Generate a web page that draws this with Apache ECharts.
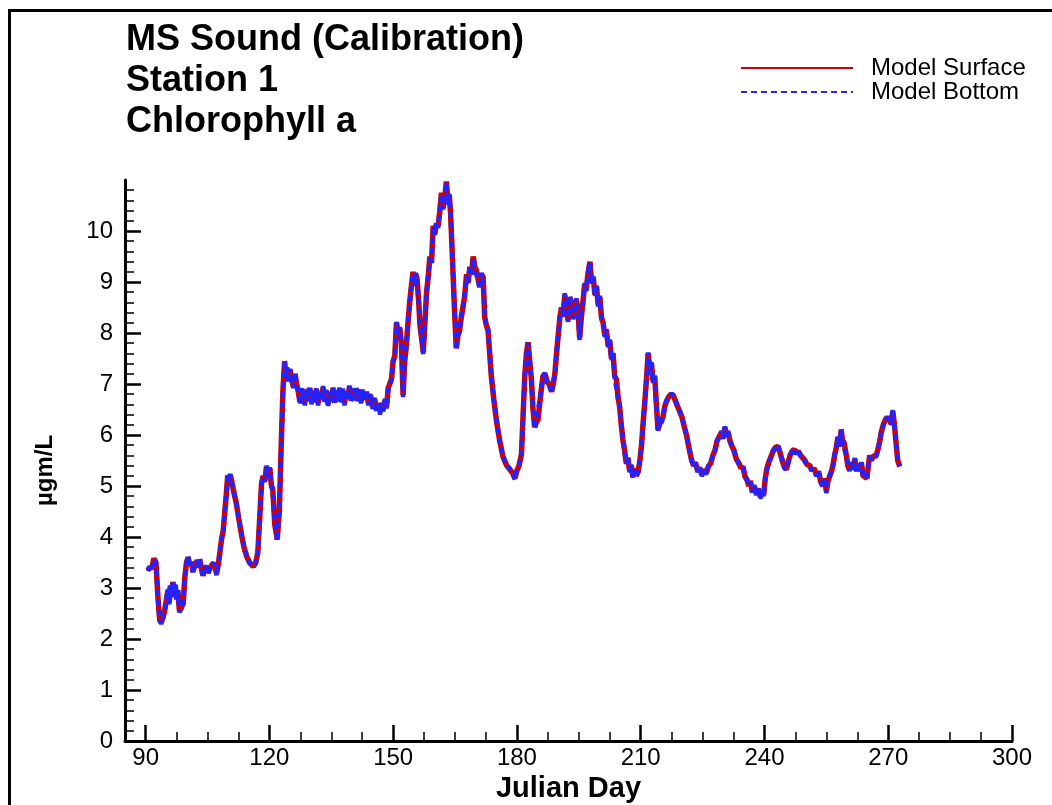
<!DOCTYPE html>
<html>
<head>
<meta charset="utf-8">
<script src="https://cdn.jsdelivr.net/npm/echarts@6/dist/echarts.min.js"></script>
<style>
  html, body { margin: 0; padding: 0; background: #fff; }
  #chart { width: 1052px; height: 805px; }
</style>
</head>
<body>
<div id="chart"></div>
<script>
// Julian day of each sample
const days = [
  90.5, 91.0, 91.5, 92.0, 92.5, 93.0, 93.4, 93.8, 94.2, 94.6, 95.0, 95.4, 95.7, 96.0, 96.3, 96.6, 96.9, 97.2, 97.5, 97.8,
  98.2, 98.6, 99.1, 99.5, 99.9, 100.3, 100.7, 101.1, 101.5, 101.9, 102.4, 102.8, 103.1, 103.5, 103.9, 104.3, 104.7, 105.1, 105.6, 106.0,
  106.5, 106.9, 107.2, 107.6, 108.0, 108.4, 108.8, 109.2, 109.6, 109.9, 110.2, 110.5, 110.8, 111.2, 111.6, 112.0, 112.6, 113.3, 113.9, 114.5,
  115.2, 116.1, 116.7, 117.2, 117.7, 118.1, 118.5, 118.9, 119.3, 119.7, 120.1, 120.5, 120.8, 121.3, 121.9, 122.4, 122.9, 123.3, 123.7, 124.0,
  124.3, 124.6, 125.0, 125.4, 125.8, 126.2, 126.6, 127.0, 127.4, 127.8, 128.2, 128.6, 129.0, 129.4, 129.8, 130.2, 130.6, 131.0, 131.4, 131.8,
  132.2, 132.6, 133.0, 133.4, 133.8, 134.2, 134.6, 135.0, 135.4, 135.8, 136.2, 136.6, 137.0, 137.4, 137.8, 138.2, 138.6, 139.0, 139.4, 139.8,
  140.2, 140.6, 141.0, 141.4, 141.8, 142.2, 142.6, 143.0, 143.5, 144.0, 144.5, 145.0, 145.5, 146.0, 146.4, 146.8, 147.2, 147.6, 148.0, 148.4,
  148.8, 149.2, 149.6, 150.0, 150.4, 150.8, 151.2, 151.6, 152.0, 152.4, 152.8, 153.2, 153.6, 154.0, 154.4, 154.8, 155.2, 155.5, 155.8, 156.2,
  156.5, 156.9, 157.3, 157.7, 158.1, 158.5, 158.9, 159.3, 159.7, 160.1, 160.5, 160.9, 161.3, 161.7, 162.1, 162.5, 162.9, 163.3, 163.6, 163.9,
  164.2, 164.5, 164.9, 165.3, 165.7, 166.1, 166.5, 166.9, 167.3, 167.8, 168.2, 168.6, 169.0, 169.4, 169.8, 170.2, 170.6, 171.0, 171.4, 171.8,
  172.2, 172.6, 173.0, 173.4, 173.8, 174.4, 175.0, 175.8, 176.6, 177.4, 178.3, 179.0, 179.5, 180.0, 180.5, 181.1, 181.5, 181.9, 182.3, 182.7,
  183.1, 183.5, 183.9, 184.3, 184.7, 185.1, 185.7, 186.3, 186.8, 187.3, 187.8, 188.4, 188.8, 189.2, 189.6, 190.0, 190.4, 190.8, 191.2, 191.6,
  192.0, 192.4, 192.8, 193.2, 193.6, 194.0, 194.4, 194.8, 195.2, 195.6, 196.0, 196.4, 196.8, 197.2, 197.7, 198.1, 198.5, 198.9, 199.3, 199.7,
  200.1, 200.5, 200.9, 201.3, 201.7, 202.1, 202.5, 202.9, 203.3, 203.7, 204.1, 204.5, 204.9, 205.3, 205.7, 206.1, 206.5, 206.9, 207.3, 207.7,
  208.1, 208.5, 208.9, 209.4, 209.8, 210.2, 210.6, 211.0, 211.4, 211.8, 212.2, 212.6, 213.0, 213.4, 213.8, 214.2, 214.6, 215.0, 215.4, 215.8,
  216.2, 216.8, 217.4, 217.9, 218.5, 219.0, 219.5, 220.0, 220.6, 221.1, 221.7, 222.3, 222.8, 223.3, 223.8, 224.3, 224.8, 225.3, 225.9, 226.4,
  227.0, 227.5, 228.0, 228.5, 229.1, 229.6, 230.0, 230.4, 230.8, 231.2, 231.6, 232.0, 232.6, 233.2, 233.8, 234.3, 234.8, 235.3, 235.8, 236.2,
  236.6, 237.0, 237.5, 238.0, 238.5, 239.0, 239.4, 239.8, 240.2, 240.6, 241.0, 241.6, 242.1, 242.6, 243.3, 243.8, 244.3, 244.8, 245.3, 245.7,
  246.2, 246.7, 247.2, 247.7, 248.2, 248.8, 249.3, 249.8, 250.3, 251.0, 251.5, 252.0, 252.6, 253.1, 253.6, 254.2, 254.6, 255.0, 255.4, 255.8,
  256.3, 256.7, 257.0, 257.4, 257.8, 258.2, 258.6, 258.9, 259.3, 259.8, 260.2, 260.6, 261.0, 261.4, 261.9, 262.3, 262.7, 263.1, 263.5, 263.9,
  264.3, 264.8, 265.2, 265.5, 265.9, 266.3, 266.7, 267.1, 267.6, 268.0, 268.3, 268.8, 269.3, 269.8, 270.3, 270.7, 271.1, 271.5, 271.9, 272.3,
  272.8
];

// chlorophyll a, surface layer (µgm/L)
const surface = [
  3.35, 3.40, 3.38, 3.58, 3.50, 2.80, 2.38, 2.32, 2.34, 2.55, 2.75, 2.95, 2.70, 3.05, 2.85, 3.12, 2.90, 3.05, 2.78, 2.95,
  2.55, 2.60, 2.70, 3.20, 3.50, 3.60, 3.45, 3.50, 3.32, 3.45, 3.52, 3.40, 3.56, 3.40, 3.24, 3.38, 3.42, 3.30, 3.38, 3.45,
  3.48, 3.40, 3.28, 3.45, 3.70, 3.95, 4.12, 4.50, 4.88, 5.20, 5.12, 5.22, 5.12, 4.95, 4.80, 4.65, 4.35, 4.02, 3.78, 3.62,
  3.50, 3.42, 3.50, 3.70, 4.45, 5.05, 5.20, 5.10, 5.38, 5.20, 5.35, 5.00, 4.95, 4.25, 3.95, 4.50, 5.90, 6.90, 7.45, 7.15,
  7.30, 7.05, 7.28, 7.10, 6.95, 7.20, 7.00, 6.85, 6.65, 6.90, 6.80, 6.62, 6.88, 6.70, 6.92, 6.65, 6.85, 6.68, 6.90, 6.62,
  6.82, 6.72, 6.93, 6.66, 6.86, 6.60, 6.82, 6.70, 6.92, 6.64, 6.84, 6.70, 6.90, 6.68, 6.88, 6.62, 6.85, 6.72, 6.95, 6.68,
  6.88, 6.72, 6.92, 6.70, 6.88, 6.66, 6.86, 6.70, 6.85, 6.62, 6.78, 6.55, 6.70, 6.48, 6.62, 6.45, 6.60, 6.50, 6.68, 6.55,
  6.92, 6.95, 7.10, 7.45, 7.55, 8.20, 8.00, 8.10, 7.80, 6.78, 7.45, 7.75, 8.20, 8.60, 8.90, 9.20, 8.95, 9.15, 9.05, 8.60,
  8.15, 7.90, 7.62, 8.20, 8.80, 9.10, 9.50, 9.38, 10.10, 9.95, 10.15, 10.10, 10.38, 10.75, 10.45, 10.65, 10.97, 10.55, 10.70, 10.38,
  9.80, 9.20, 8.40, 7.70, 7.95, 8.05, 8.30, 8.50, 8.70, 9.15, 9.00, 9.30, 9.15, 9.50, 9.30, 9.22, 9.05, 8.90, 9.15, 9.10,
  8.30, 8.15, 8.05, 7.60, 7.15, 6.70, 6.30, 5.90, 5.58, 5.42, 5.32, 5.25, 5.15, 5.30, 5.40, 5.62, 6.40, 7.15, 7.60, 7.82,
  7.45, 7.10, 6.50, 6.15, 6.25, 6.30, 6.75, 7.15, 7.20, 7.05, 7.00, 6.85, 7.00, 7.20, 7.60, 7.95, 8.30, 8.50, 8.35, 8.75,
  8.45, 8.25, 8.70, 8.60, 8.30, 8.40, 8.65, 8.45, 7.90, 8.30, 8.60, 8.95, 8.85, 9.15, 9.40, 9.00, 9.10, 8.75, 8.90, 8.55,
  8.70, 8.30, 8.20, 7.95, 8.05, 7.75, 7.85, 7.50, 7.60, 7.15, 7.10, 6.75, 6.55, 6.20, 5.90, 5.70, 5.45, 5.55, 5.30, 5.40,
  5.18, 5.35, 5.20, 5.28, 5.50, 5.80, 6.25, 6.65, 7.10, 7.60, 7.30, 7.40, 7.05, 7.15, 6.60, 6.10, 6.22, 6.20, 6.35, 6.55,
  6.65, 6.75, 6.80, 6.78, 6.65, 6.55, 6.45, 6.35, 6.15, 6.00, 5.75, 5.52, 5.40, 5.45, 5.30, 5.35, 5.22, 5.32, 5.25, 5.38,
  5.45, 5.60, 5.70, 5.88, 5.98, 6.05, 5.95, 6.15, 6.00, 6.05, 5.90, 5.80, 5.70, 5.52, 5.45, 5.35, 5.38, 5.18, 5.12, 5.00,
  5.10, 4.90, 5.00, 4.85, 4.95, 4.78, 4.90, 4.82, 5.15, 5.35, 5.45, 5.58, 5.68, 5.75, 5.78, 5.65, 5.50, 5.38, 5.32, 5.45,
  5.60, 5.68, 5.72, 5.65, 5.68, 5.60, 5.55, 5.50, 5.42, 5.40, 5.30, 5.35, 5.22, 5.28, 5.10, 5.00, 5.15, 4.90, 5.10, 5.12,
  5.30, 5.45, 5.60, 5.75, 5.95, 5.80, 6.10, 5.90, 5.85, 5.62, 5.40, 5.32, 5.45, 5.35, 5.52, 5.30, 5.42, 5.32, 5.45, 5.20,
  5.22, 5.15, 5.40, 5.60, 5.50, 5.58, 5.55, 5.60, 5.75, 5.90, 6.05, 6.20, 6.30, 6.35, 6.30, 6.22, 6.47, 6.20, 5.85, 5.50,
  5.38
];

// chlorophyll a, bottom layer (µgm/L)
const bottom = [
  3.33, 3.42, 3.36, 3.56, 3.52, 2.78, 2.36, 2.30, 2.36, 2.53, 2.77, 2.98, 2.66, 3.08, 2.82, 3.14, 2.88, 3.07, 2.74, 2.97,
  2.52, 2.62, 2.68, 3.22, 3.48, 3.62, 3.43, 3.52, 3.28, 3.47, 3.54, 3.38, 3.58, 3.37, 3.22, 3.40, 3.44, 3.27, 3.40, 3.43,
  3.50, 3.38, 3.25, 3.47, 3.68, 3.97, 4.10, 4.52, 4.86, 5.22, 5.08, 5.24, 5.10, 4.97, 4.78, 4.67, 4.33, 4.04, 3.76, 3.64,
  3.48, 3.44, 3.48, 3.72, 4.43, 5.07, 5.18, 5.08, 5.40, 5.17, 5.37, 4.98, 4.92, 4.27, 3.93, 4.52, 5.88, 6.92, 7.43, 7.12,
  7.33, 7.02, 7.30, 7.07, 6.92, 7.22, 6.97, 6.87, 6.60, 6.93, 6.77, 6.58, 6.90, 6.67, 6.95, 6.60, 6.88, 6.64, 6.93, 6.58,
  6.85, 6.68, 6.96, 6.62, 6.89, 6.56, 6.85, 6.66, 6.95, 6.60, 6.87, 6.66, 6.93, 6.64, 6.91, 6.58, 6.88, 6.68, 6.97, 6.64,
  6.91, 6.68, 6.95, 6.66, 6.91, 6.62, 6.89, 6.66, 6.88, 6.58, 6.81, 6.51, 6.73, 6.44, 6.65, 6.40, 6.63, 6.46, 6.71, 6.52,
  6.90, 6.97, 7.08, 7.47, 7.52, 8.22, 7.97, 8.12, 7.76, 6.74, 7.48, 7.73, 8.23, 8.57, 8.93, 9.17, 8.92, 9.18, 9.02, 8.62,
  8.12, 7.92, 7.58, 8.23, 8.77, 9.13, 9.47, 9.35, 10.07, 9.92, 10.18, 10.06, 10.41, 10.72, 10.42, 10.68, 10.94, 10.52, 10.73, 10.35,
  9.82, 9.18, 8.42, 7.68, 7.97, 8.02, 8.33, 8.47, 8.73, 9.12, 8.97, 9.33, 9.12, 9.47, 9.27, 9.25, 9.02, 8.87, 9.18, 9.07,
  8.32, 8.12, 8.07, 7.58, 7.17, 6.68, 6.32, 5.88, 5.60, 5.40, 5.34, 5.23, 5.13, 5.32, 5.38, 5.64, 6.38, 7.17, 7.58, 7.80,
  7.47, 7.08, 6.52, 6.13, 6.27, 6.28, 6.77, 7.13, 7.22, 7.03, 7.02, 6.82, 7.02, 7.18, 7.62, 7.93, 8.32, 8.47, 8.32, 8.78,
  8.42, 8.22, 8.73, 8.57, 8.27, 8.43, 8.68, 8.42, 7.86, 8.33, 8.57, 8.98, 8.82, 9.18, 9.37, 8.97, 9.13, 8.72, 8.93, 8.52,
  8.73, 8.27, 8.23, 7.92, 8.08, 7.72, 7.88, 7.47, 7.63, 7.12, 7.13, 6.72, 6.57, 6.18, 5.92, 5.67, 5.43, 5.57, 5.27, 5.42,
  5.15, 5.37, 5.17, 5.30, 5.48, 5.82, 6.23, 6.67, 7.08, 7.62, 7.27, 7.43, 7.02, 7.18, 6.57, 6.08, 6.24, 6.18, 6.37, 6.53,
  6.67, 6.73, 6.82, 6.76, 6.67, 6.53, 6.47, 6.33, 6.17, 5.98, 5.77, 5.50, 5.37, 5.47, 5.27, 5.37, 5.19, 5.34, 5.22, 5.40,
  5.43, 5.62, 5.68, 5.90, 5.96, 6.08, 5.92, 6.17, 5.97, 6.08, 5.87, 5.82, 5.68, 5.54, 5.42, 5.37, 5.35, 5.20, 5.09, 5.02,
  5.07, 4.87, 5.02, 4.82, 4.97, 4.75, 4.92, 4.80, 5.17, 5.33, 5.47, 5.56, 5.70, 5.73, 5.80, 5.63, 5.52, 5.35, 5.34, 5.43,
  5.62, 5.66, 5.74, 5.62, 5.70, 5.57, 5.57, 5.47, 5.44, 5.37, 5.32, 5.33, 5.19, 5.30, 5.07, 4.97, 5.17, 4.86, 5.12, 5.10,
  5.32, 5.43, 5.62, 5.73, 5.97, 5.77, 6.12, 5.87, 5.87, 5.60, 5.42, 5.29, 5.47, 5.32, 5.55, 5.27, 5.44, 5.29, 5.47, 5.17,
  5.24, 5.12, 5.42, 5.58, 5.52, 5.56, 5.57, 5.58, 5.77, 5.88, 6.07, 6.18, 6.32, 6.33, 6.32, 6.20, 6.49, 6.18, 5.87, 5.48,
  5.40
];

// axis ticks
const xMajor = [90, 120, 150, 180, 210, 240, 270, 300];
const xMinor = [];
for (let i = 0; i < xMajor.length - 1; i++) {
  for (let k = 1; k < 4; k++) xMinor.push(xMajor[i] + k * 7.5);
}
const yMajor = [0, 1, 2, 3, 4, 5, 6, 7, 8, 9, 10];
const yMinor = [];
for (let v = 0; v < 55; v++) {
  if (v % 5 !== 0) yMinor.push(v / 5);
}

const font = 'Liberation Sans, Arial, Helvetica, sans-serif';

const chart = echarts.init(document.getElementById('chart'));
chart.setOption({
  animation: false,
  backgroundColor: '#fff',
  textStyle: { fontFamily: font, color: '#000' },
  title: {
    text: 'MS Sound (Calibration)\nStation 1\nChlorophyll a',
    left: 121,
    top: 15,
    textStyle: { fontSize: 36, fontWeight: 'bold', lineHeight: 41, color: '#000', fontFamily: font }
  },
  legend: {
    orient: 'vertical',
    left: 740,
    top: 56,
    padding: 0,
    itemWidth: 112,
    itemHeight: 14,
    itemGap: 0,
    itemStyle: { opacity: 0 },
    textStyle: { fontSize: 24, lineHeight: 23, color: '#000', padding: [0, 0, 0, 13] },
    data: ['Model Surface', 'Model Bottom']
  },
  graphic: [{
    type: 'rect',
    shape: { x: 9.5, y: 10.5, width: 1200, height: 900 },
    style: { fill: 'none', stroke: '#000', lineWidth: 3 }
  }],
  grid: { left: 125, right: 40, top: 180, bottom: 64, containLabel: false, outerBoundsMode: 'none' },
  xAxis: [{
    type: 'value',
    position: 'bottom',
    min: 85,
    max: 300,
    name: 'Julian Day',
    nameLocation: 'middle',
    nameGap: 27,
    nameTextStyle: { fontSize: 29, fontWeight: 'bold', color: '#000' },
    axisLine: { show: true, lineStyle: { color: '#000', width: 3 } },
    axisTick: { inside: true, length: 16, customValues: xMajor, lineStyle: { color: '#000', width: 2.5 } },
    axisLabel: { customValues: xMajor, fontSize: 24, color: '#000', margin: 5 },
    splitLine: { show: false }
  }, {
    type: 'value',
    position: 'bottom',
    offset: 0,
    min: 85,
    max: 300,
    axisLine: { show: false },
    axisTick: { show: true, inside: true, length: 9, customValues: xMinor, lineStyle: { color: '#000', width: 1.5 } },
    axisLabel: { show: false },
    splitLine: { show: false }
  }],
  yAxis: [{
    type: 'value',
    position: 'left',
    min: 0,
    max: 11,
    name: 'µgm/L',
    nameLocation: 'middle',
    nameGap: 68,
    nameTextStyle: { fontSize: 24, fontWeight: 'bold', color: '#000', padding: [0, 20, 0, 0] },
    axisLine: { show: true, lineStyle: { color: '#000', width: 3 } },
    axisTick: { inside: true, length: 16, customValues: yMajor, lineStyle: { color: '#000', width: 2.5 } },
    axisLabel: { customValues: yMajor, fontSize: 24, color: '#000', margin: 12 },
    splitLine: { show: false }
  }, {
    type: 'value',
    position: 'left',
    offset: 0,
    min: 0,
    max: 11,
    axisLine: { show: false },
    axisTick: { show: true, inside: true, length: 9, customValues: yMinor, lineStyle: { color: '#000', width: 1.5 } },
    axisLabel: { show: false },
    splitLine: { show: false }
  }],
  series: [{
    name: 'Model Surface',
    type: 'line',
    xAxisIndex: 0,
    yAxisIndex: 0,
    symbol: 'none',
    data: days.map((d, i) => [d, surface[i]]),
    lineStyle: { color: '#d00000', width: 5.5 },
    itemStyle: { color: '#d00000' }
  }, {
    name: 'Model Bottom',
    type: 'line',
    xAxisIndex: 0,
    yAxisIndex: 0,
    symbol: 'none',
    data: days.map((d, i) => [d, bottom[i]]),
    lineStyle: { color: '#2323ff', width: 4.5, type: [6, 4] },
    itemStyle: { color: '#2323ff' }
  }]
});
</script>
</body>
</html>
